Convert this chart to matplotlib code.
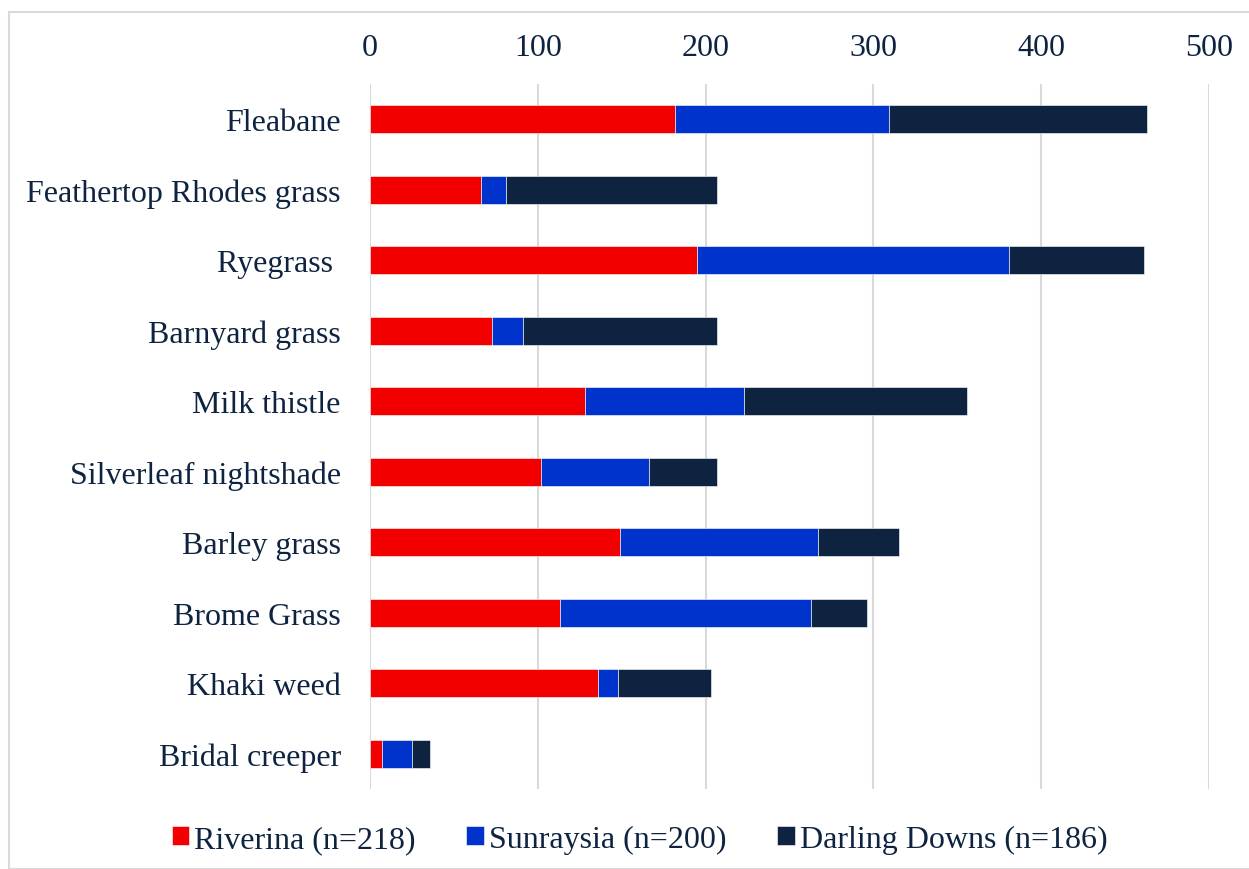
import numpy as np
import matplotlib.pyplot as plt
from matplotlib.patches import Rectangle

weeds = ['Fleabane', 'Feathertop Rhodes grass', 'Ryegrass ', 'Barnyard grass',
         'Milk thistle', 'Silverleaf nightshade', 'Barley grass', 'Brome Grass',
         'Khaki weed', 'Bridal creeper']
riverina = [182, 66, 195, 73, 128, 102, 149, 113, 136, 7]
sunraysia = [127, 15, 186, 18, 95, 64, 118, 150, 12, 18]
darling = [154, 126, 80, 116, 133, 41, 48, 33, 55, 11]
series_names = ['Riverina (n=218)', 'Sunraysia (n=200)', 'Darling Downs (n=186)']

plt.rcParams['font.family'] = ['Liberation Serif', 'DejaVu Serif']
txt = '#0E2340'

fig = plt.figure(figsize=(12.49, 8.70), dpi=100)
ax = fig.add_axes([0.2962, 0.092, 0.968 - 0.2962, 0.9023 - 0.092])

y = np.arange(len(weeds))
r = np.array(riverina)
s = np.array(sunraysia)
d = np.array(darling)
colors = ['#F20000', '#0033CC', '#0E2340']
h = 0.4
b1 = ax.barh(y, r, height=h, color=colors[0], edgecolor='white', linewidth=0.4)
b2 = ax.barh(y, s, left=r, height=h, color=colors[1], edgecolor='white', linewidth=0.4)
b3 = ax.barh(y, d, left=r + s, height=h, color=colors[2], edgecolor='white', linewidth=0.4)

ax.set_xlim(0, 500)
ax.set_ylim(len(weeds) - 0.5, -0.5)
ax.set_xticks(range(0, 501, 100))
ax.set_yticks(y)
ax.set_yticklabels(weeds)
ax.xaxis.tick_top()
ax.tick_params(axis='both', length=0, labelsize=23, colors=txt)
ax.tick_params(axis='x', pad=16)
ax.tick_params(axis='y', pad=21)
ax.grid(axis='x', color='#D9D9D9', linewidth=1.5)
ax.set_axisbelow(True)
for sp in ax.spines.values():
    sp.set_visible(False)

fig.legend([b1, b2, b3], series_names, loc='center', bbox_to_anchor=(0.512, 0.034),
           ncol=3, frameon=False, fontsize=23, handlelength=0.55, handleheight=0.55,
           handletextpad=0.15, columnspacing=1.6, labelcolor=txt)

fig.patches.append(Rectangle((9 / 1249, 0.0), 1.0, 1 - 13 / 870, transform=fig.transFigure,
                             fill=False, edgecolor='#D9D9D9', linewidth=1.5))

fig.savefig('out.png', dpi=100)
